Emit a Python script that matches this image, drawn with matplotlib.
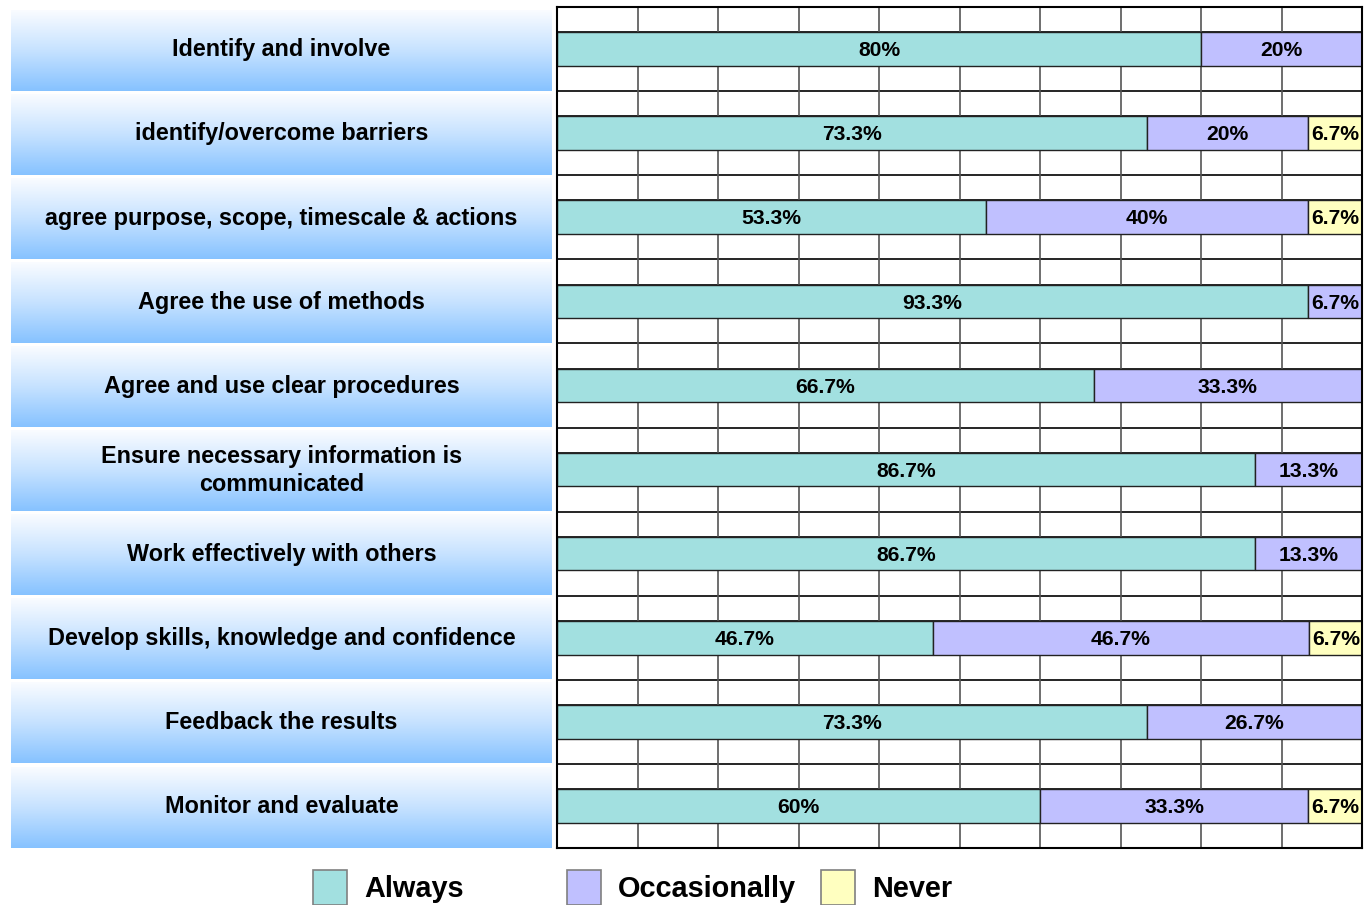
import numpy as np
import matplotlib.pyplot as plt
from matplotlib.patches import Rectangle
from matplotlib.colors import LinearSegmentedColormap

plt.rcParams['font.family'] = ['Liberation Sans', 'DejaVu Sans']

categories = [
    'Identify and involve',
    'identify/overcome barriers',
    'agree purpose, scope, timescale & actions',
    'Agree the use of methods',
    'Agree and use clear procedures',
    'Ensure necessary information is\ncommunicated',
    'Work effectively with others',
    'Develop skills, knowledge and confidence',
    'Feedback the results',
    'Monitor and evaluate',
]
always = [80, 73.3, 53.3, 93.3, 66.7, 86.7, 86.7, 46.7, 73.3, 60]
occasionally = [20, 20, 40, 6.7, 33.3, 13.3, 13.3, 46.7, 26.7, 33.3]
never = [0, 6.7, 6.7, 0, 0, 0, 0, 6.7, 0, 6.7]
series_names = ['Always', 'Occasionally', 'Never']
series_colors = ['#a2e0e0', '#c0c0ff', '#ffffc0']

W, H = 1364, 905
fig = plt.figure(figsize=(W / 100, H / 100), dpi=100)

y_top, y_bot = 7, 848
ax_l = fig.add_axes([11 / W, 1 - y_bot / H, 541 / W, (y_bot - y_top) / H])
ax = fig.add_axes([557 / W, 1 - y_bot / H, 805 / W, (y_bot - y_top) / H])

n = len(categories)

# left panel: gradient boxes with labels
grad = np.linspace(0, 1, 256).reshape(-1, 1)
cmap = LinearSegmentedColormap.from_list('bx', ['#fafcff', '#c6e2ff', '#86c2ff'])
for i, cat in enumerate(categories):
    ax_l.imshow(grad, cmap=cmap, aspect='auto', extent=[0, 1, i + 0.995, i + 0.035],
                interpolation='bilinear')
    ax_l.text(0.5, i + 0.51, cat, ha='center', va='center', fontsize=16.8,
              fontweight='bold', linespacing=1.25)
ax_l.set_xlim(0, 1)
ax_l.set_ylim(n, 0)
ax_l.axis('off')

# right panel: grid
for i in range(n):
    for off in (0, 0.3, 0.7):
        ax.axhline(i + off, color='black', lw=1.2, zorder=1)
for x in range(10, 100, 10):
    ax.axvline(x, color='#555555', lw=1.2, zorder=1)

y = np.arange(n) + 0.5
left = np.zeros(n)
for vals, name, col in zip([always, occasionally, never], series_names, series_colors):
    vals = np.array(vals, dtype=float)
    ax.barh(y, vals, left=left, height=0.4, color=col, edgecolor='#222222',
            linewidth=1.0, zorder=2)
    for yi, l, v in zip(y, left, vals):
        if v > 0:
            ax.text(l + v / 2, yi + 0.02, f'{v:g}%', ha='center', va='center',
                    fontsize=15.2, fontweight='bold', zorder=3)
    left += vals

ax.set_xlim(0, 100)
ax.set_ylim(n, 0)
ax.set_xticks([])
ax.set_yticks([])
for s in ax.spines.values():
    s.set_color('black')
    s.set_linewidth(1.5)

# legend
leg_x = [313, 567, 821]
for lx, name, col in zip(leg_x, series_names, series_colors):
    fig.add_artist(Rectangle((lx / W, 1 - 905 / H), 34 / W, 35 / H,
                             transform=fig.transFigure, facecolor=col,
                             edgecolor='#808080', lw=1.2))
    fig.text((lx + 51) / W, 1 - 889 / H, name, ha='left', va='center',
             fontsize=20.8, fontweight='bold')

fig.savefig('out.png', dpi=100)
